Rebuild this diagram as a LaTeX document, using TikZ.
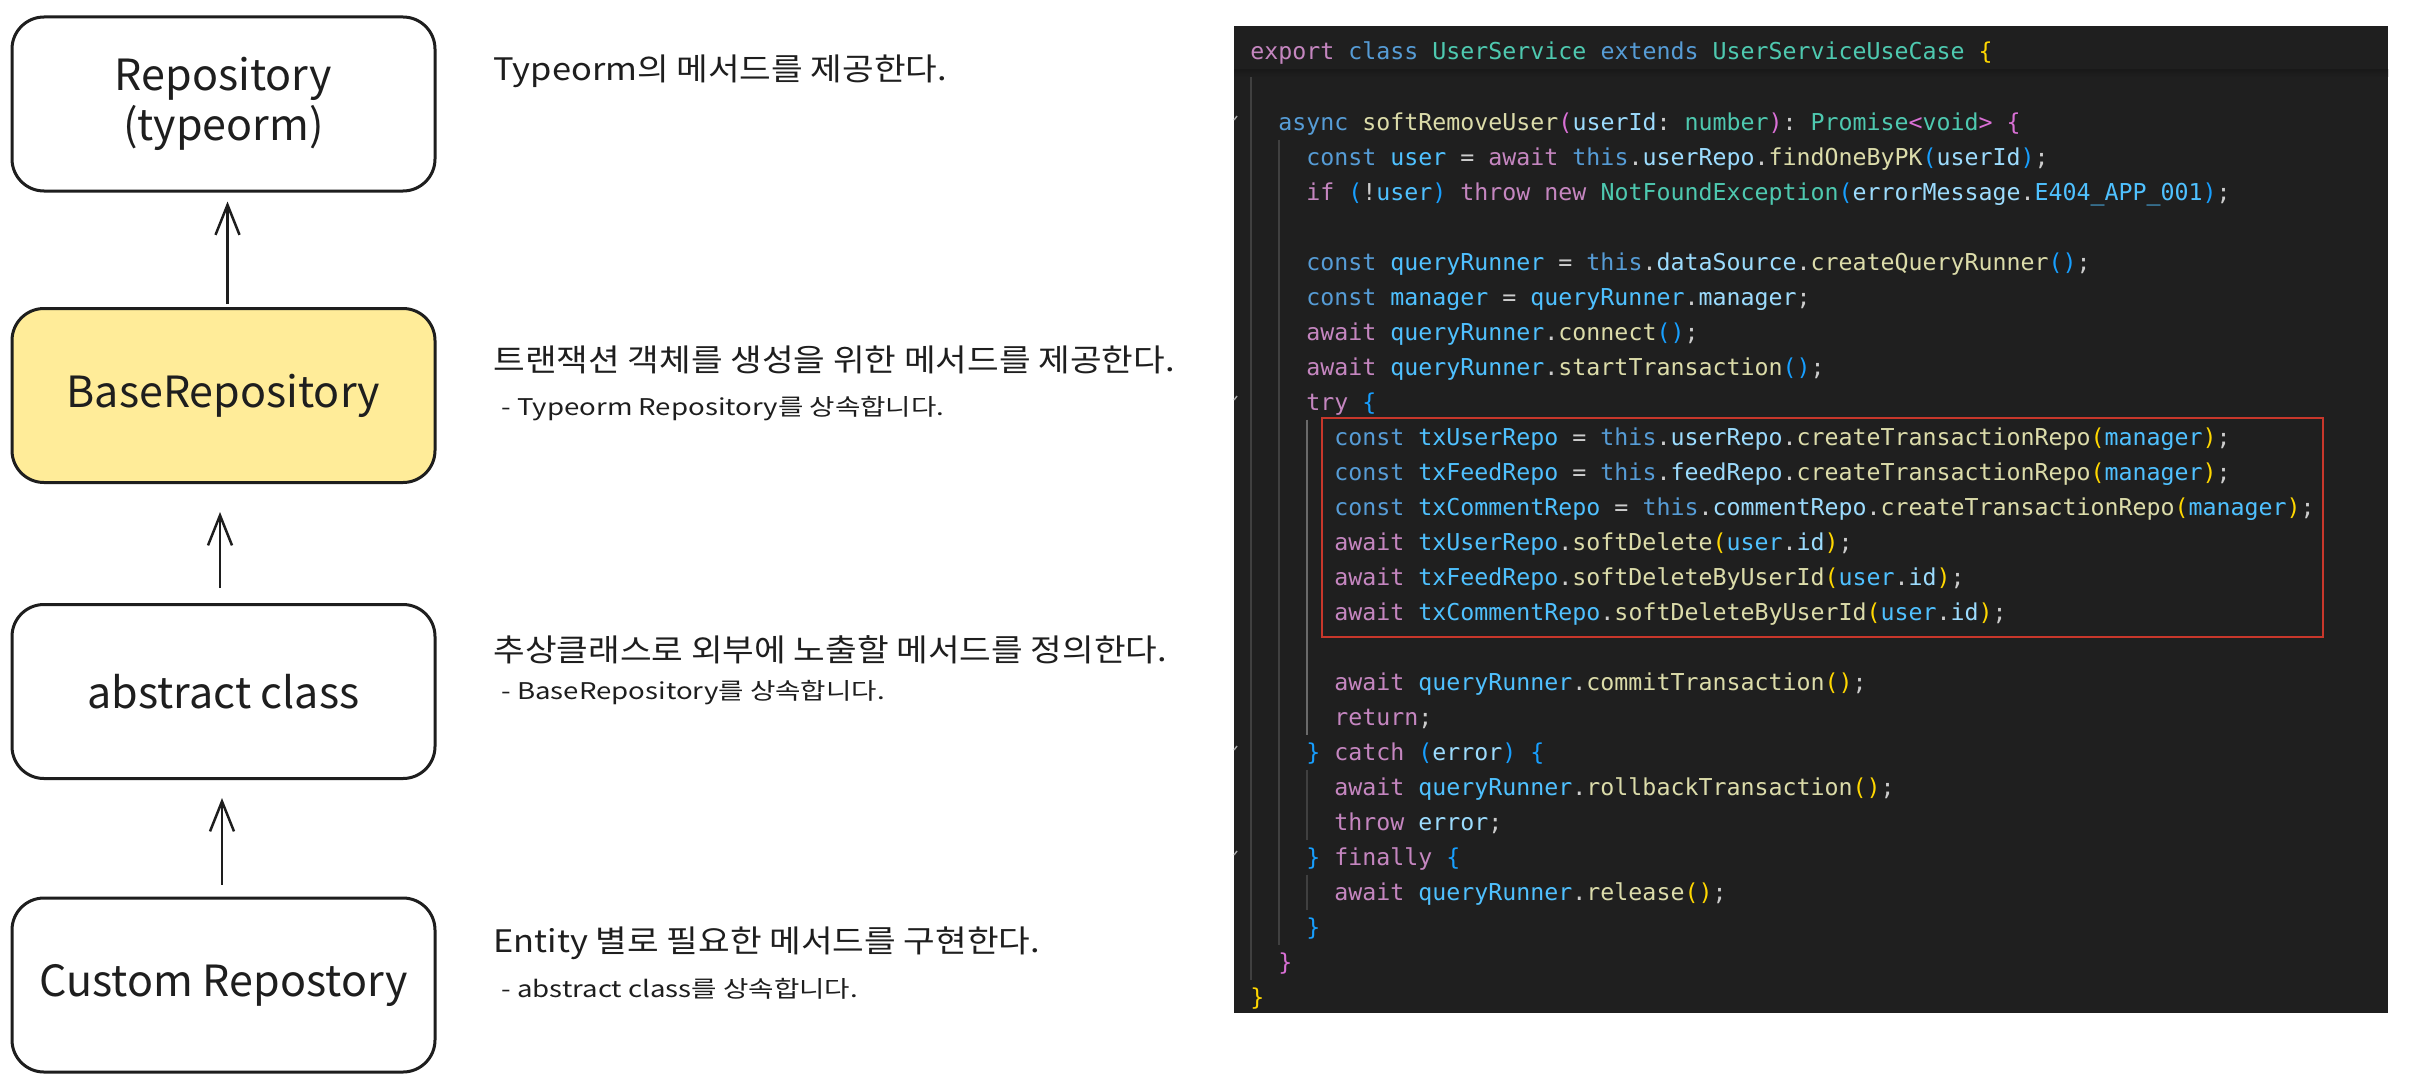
\documentclass[tikz,border=0pt]{standalone}
\usepackage{fontspec}
\usetikzlibrary{arrows.meta}
\newfontfamily\krfont{Noto Sans CJK KR}
\newfontfamily\codefont{DejaVu Sans Mono}
\definecolor{ink}{HTML}{1E1E1E}
\definecolor{yel}{HTML}{FFEC99}
\definecolor{cbg}{HTML}{1F1F1F}
\definecolor{ckw}{HTML}{569CD6}
\definecolor{cct}{HTML}{C586C0}
\definecolor{cty}{HTML}{4EC9B0}
\definecolor{cfn}{HTML}{DCDCAA}
\definecolor{cva}{HTML}{9CDCFE}
\definecolor{cco}{HTML}{4FC1FF}
\definecolor{cpu}{HTML}{CCCCCC}
\definecolor{cba}{HTML}{FFD700}
\definecolor{cbb}{HTML}{DA70D6}
\definecolor{cbc}{HTML}{179FFF}
\definecolor{guide}{HTML}{404040}
\definecolor{guideact}{HTML}{6A6A6A}
\definecolor{redbox}{HTML}{C8372B}
\newcommand{\cKw}[1]{\textcolor{ckw}{#1}}
\newcommand{\cCt}[1]{\textcolor{cct}{#1}}
\newcommand{\cTy}[1]{\textcolor{cty}{#1}}
\newcommand{\cFn}[1]{\textcolor{cfn}{#1}}
\newcommand{\cVa}[1]{\textcolor{cva}{#1}}
\newcommand{\cCo}[1]{\textcolor{cco}{#1}}
\newcommand{\cBa}[1]{\textcolor{cba}{#1}}
\newcommand{\cBb}[1]{\textcolor{cbb}{#1}}
\newcommand{\cBc}[1]{\textcolor{cbc}{#1}}
\begin{document}
\begin{tikzpicture}[x=0.5pt,y=-0.5pt,
  box/.style={draw=ink, line width=1.5pt, rounded corners=16pt, minimum width=211.5pt, minimum height=87pt, inner sep=0pt, align=center, font=\krfont\fontsize{21.5}{25}\selectfont, text=ink},
  desc/.style={anchor=base west, inner sep=0pt, xscale=1.11, font=\krfont\fontsize{15.5}{18}\selectfont, text=ink},
  subdesc/.style={anchor=base west, inner sep=0pt, xscale=1.2, font=\krfont\fontsize{11.5}{14}\selectfont, text=ink},
  inh/.style={draw=ink, line width=1.25pt, -{Straight Barb[length=15pt,width=12pt]}},
  codeline/.style={anchor=base west, inner sep=0pt, font=\codefont\fontsize{11.63}{14}\selectfont\frenchspacing, text=cpu},
  gd/.style={draw=guide, line width=0.6pt},
  gda/.style={draw=guideact, line width=0.6pt},
  fold/.style={draw=gray!70, line width=0.7pt}
]
\fill[white] (0,0) rectangle (2412,1086);
\useasboundingbox (0,0) rectangle (2412,1086);

% ---------- left diagram ----------
\node[box, fill=white] (b1) at (223.5,104) {Repository\\(typeorm)};
\node[box, fill=yel] (b2) at (223.5,395.5) {BaseRepository};
\node[box, fill=white] (b3) at (223.5,691.5) {abstract class};
\node[box, fill=white] (b4) at (223.5,985) {Custom Repostory};

\draw[inh, shorten <=1.5pt, shorten >=4.5pt] ([xshift=2pt]b2.north) -- ([xshift=2pt]b1.south);
\draw[inh, shorten <=7.5pt, shorten >=14pt] ([xshift=-1.75pt]b3.north) -- ([xshift=-1.75pt]b2.south);
\draw[inh, shorten <=6pt, shorten >=9pt] ([xshift=-0.75pt]b4.north) -- ([xshift=-0.75pt]b3.south);

\node[desc] (d1) at (493,81) {Typeorm의 메서드를 제공한다.};
\node[desc] (d2) at (493,371) {트랜잭션 객체를 생성을 위한 메서드를 제공한다.};
\node[subdesc] (d2s) at (501,415) {- Typeorm Repository를 상속합니다.};
\node[desc] (d3) at (493,661) {추상클래스로 외부에 노출할 메서드를 정의한다.};
\node[subdesc] (d3s) at (501,699) {- BaseRepository를 상속합니다.};
\node[desc] (d4) at (493,952) {Entity 별로 필요한 메서드를 구현한다.};
\node[subdesc] (d4s) at (501,997) {- abstract class를 상속합니다.};

% ---------- code panel ----------
\fill[cbg] (1234,26) rectangle (2388,1013);
\shade[top color=black!90, bottom color=cbg] (1234,70) rectangle (2388,77);

% indent guides
\draw[gd] (1251,77) -- (1251,979.5);
\draw[gd] (1279,139.5) -- (1279,944.5);
\draw[gda] (1307,419.5) -- (1307,734.5);
\draw[gd] (1307,769.5) -- (1307,839.5);
\draw[gd] (1307,874.5) -- (1307,909.5);

% fold markers
\draw[fold] (1234,120) -- (1237,116);
\draw[fold] (1234,400) -- (1237,396);
\draw[fold] (1234,750) -- (1237,746);
\draw[fold] (1234,855) -- (1237,851);

% red highlight
\draw[redbox, line width=1pt] (1322,418) rectangle (2323,637);

\node[codeline] (c1) at (1250,60) {\cCt{export} \cKw{class} \cTy{UserService} \cKw{extends} \cTy{UserServiceUseCase} \cBa{\{}};
\node[codeline] (c3) at (1278,130) {\cKw{async} \cFn{softRemoveUser}\cBb{(}\cVa{userId}: \cTy{number}\cBb{)}: \cTy{Promise}\cBb{<}\cTy{void}\cBb{>} \cBb{\{}};
\node[codeline] (c4) at (1306,165) {\cKw{const} \cCo{user} = \cCt{await} \cKw{this}.\cVa{userRepo}.\cFn{findOneByPK}\cBc{(}\cVa{userId}\cBc{)};};
\node[codeline] (c5) at (1306,200) {\cCt{if} \cBc{(}!\cCo{user}\cBc{)} \cCt{throw} \cCt{new} \cTy{NotFoundException}\cBc{(}\cVa{errorMessage}.\cCo{E404\_APP\_001}\cBc{)};};
\node[codeline] (c7) at (1306,270) {\cKw{const} \cCo{queryRunner} = \cKw{this}.\cVa{dataSource}.\cFn{createQueryRunner}\cBc{()};};
\node[codeline] (c8) at (1306,305) {\cKw{const} \cCo{manager} = \cCo{queryRunner}.\cVa{manager};};
\node[codeline] (c9) at (1306,340) {\cCt{await} \cCo{queryRunner}.\cFn{connect}\cBc{()};};
\node[codeline] (c10) at (1306,375) {\cCt{await} \cCo{queryRunner}.\cFn{startTransaction}\cBc{()};};
\node[codeline] (c11) at (1306,410) {\cCt{try} \cBc{\{}};
\node[codeline] (c12) at (1334,445) {\cKw{const} \cCo{txUserRepo} = \cKw{this}.\cVa{userRepo}.\cFn{createTransactionRepo}\cBa{(}\cCo{manager}\cBa{)};};
\node[codeline] (c13) at (1334,480) {\cKw{const} \cCo{txFeedRepo} = \cKw{this}.\cVa{feedRepo}.\cFn{createTransactionRepo}\cBa{(}\cCo{manager}\cBa{)};};
\node[codeline] (c14) at (1334,515) {\cKw{const} \cCo{txCommentRepo} = \cKw{this}.\cVa{commentRepo}.\cFn{createTransactionRepo}\cBa{(}\cCo{manager}\cBa{)};};
\node[codeline] (c15) at (1334,550) {\cCt{await} \cCo{txUserRepo}.\cFn{softDelete}\cBa{(}\cCo{user}.\cVa{id}\cBa{)};};
\node[codeline] (c16) at (1334,585) {\cCt{await} \cCo{txFeedRepo}.\cFn{softDeleteByUserId}\cBa{(}\cCo{user}.\cVa{id}\cBa{)};};
\node[codeline] (c17) at (1334,620) {\cCt{await} \cCo{txCommentRepo}.\cFn{softDeleteByUserId}\cBa{(}\cCo{user}.\cVa{id}\cBa{)};};
\node[codeline] (c19) at (1334,690) {\cCt{await} \cCo{queryRunner}.\cFn{commitTransaction}\cBa{()};};
\node[codeline] (c20) at (1334,725) {\cCt{return};};
\node[codeline] (c21) at (1306,760) {\cBc{\}} \cCt{catch} \cBc{(}\cVa{error}\cBc{)} \cBc{\{}};
\node[codeline] (c22) at (1334,795) {\cCt{await} \cCo{queryRunner}.\cFn{rollbackTransaction}\cBa{()};};
\node[codeline] (c23) at (1334,830) {\cCt{throw} \cVa{error};};
\node[codeline] (c24) at (1306,865) {\cBc{\}} \cCt{finally} \cBc{\{}};
\node[codeline] (c25) at (1334,900) {\cCt{await} \cCo{queryRunner}.\cFn{release}\cBa{()};};
\node[codeline] (c26) at (1306,935) {\cBc{\}}};
\node[codeline] (c27) at (1278,970) {\cBb{\}}};
\node[codeline] (c28) at (1250,1005) {\cBa{\}}};
\end{tikzpicture}
\end{document}
